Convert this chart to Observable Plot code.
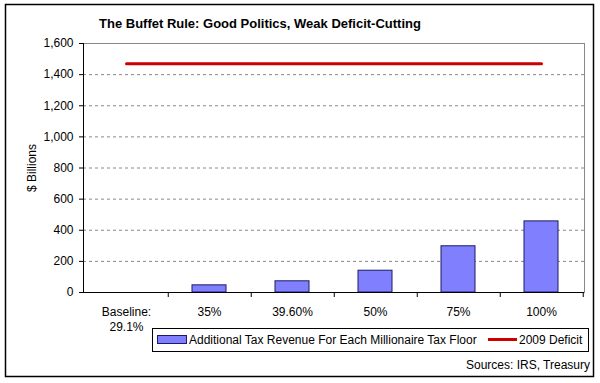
<!DOCTYPE html>
<html><head><meta charset="utf-8">
<script src="https://cdn.jsdelivr.net/npm/d3@7"></script>
<script src="https://cdn.jsdelivr.net/npm/@observablehq/plot@0.6"></script>
<style>
body{margin:0;background:#fff;}
#c{position:relative;width:600px;height:383px;}
svg{font-family:"Liberation Sans",Arial,sans-serif;}
</style></head><body><div id="c"></div>
<script>
const categories = ["Baseline:\n29.1%", "35%", "39.60%", "50%", "75%", "100%"];
const revenue = [0, 46, 72, 140, 297, 457];
const deficit2009 = [1470, 1470, 1470, 1470, 1470, 1470];
const yTicks = [0, 200, 400, 600, 800, 1000, 1200, 1400, 1600];
const gridTicks = [200, 400, 600, 800, 1000, 1200, 1400];
const titleText = "The Buffet Rule: Good Politics, Weak Deficit-Cutting";
const barLabel = "Additional Tax Revenue For Each Millionaire Tax Floor";
const lineLabel = "2009 Deficit";
const sourceText = "Sources: IRS, Treasury";

const rows = categories.map((c, i) => ({cat: c, rev: revenue[i], def: deficit2009[i]}));
const W = 600, H = 383, mL = 83, mR = 16, mT = 43, mB = 91;
const step = (W - mL - mR) / categories.length;

const chart = Plot.plot({
  width: W, height: H,
  marginLeft: mL, marginRight: mR, marginTop: mT, marginBottom: mB,
  style: {fontFamily: '"Liberation Sans", Arial, sans-serif', fontSize: "12px", color: "#000", background: "white"},
  x: {type: "band", domain: categories, paddingInner: 0.59, paddingOuter: 0.295, align: 0.5},
  y: {domain: [0, 1600]},
  marks: [
    Plot.ruleY(gridTicks, {stroke: "#888", strokeDasharray: "3,3", strokeWidth: 1, strokeOpacity: 1}),
    Plot.frame({anchor: "top", stroke: "#888", strokeOpacity: 1}),
    Plot.frame({anchor: "right", stroke: "#888", strokeOpacity: 1}),
    Plot.barY(rows.filter(d => d.rev > 0), {x: "cat", y: "rev", fill: "#8080ff", stroke: "#1a1a66", strokeWidth: 1}),
    Plot.lineY(rows, {x: "cat", y: "def", stroke: "#cc0000", strokeWidth: 3}),
    Plot.ruleY([0], {stroke: "#000"}),
    Plot.frame({anchor: "left", stroke: "#000", strokeOpacity: 1}),
    Plot.axisY({ticks: yTicks, tickFormat: d3.format(","), tickSize: 4, tickPadding: 6, label: "$ Billions", labelAnchor: "center", labelArrow: "none", labelOffset: 56, stroke: "#000", fill: "#000", fontSize: 12}),
    Plot.axisX({tickSize: 5, dx: step / 2, tickFormat: () => "", stroke: "#000", label: null}),
    Plot.axisX({tickSize: 0, tickPadding: 13, label: null, fill: "#000", fontSize: 12, lineHeight: 1.25})
  ]
});
document.getElementById("c").appendChild(chart);

const svg = d3.select(chart);
svg.append("rect").attr("x", 5.5).attr("y", 4.5).attr("width", 588).attr("height", 372)
  .attr("fill", "none").attr("stroke", "#000").attr("stroke-width", 1.5);
svg.append("text").attr("x", 260).attr("y", 28).attr("text-anchor", "middle")
  .attr("font-size", 13).attr("font-weight", "bold").attr("fill", "#000").text(titleText);
const lg = svg.append("g").attr("text-anchor", "start");
lg.append("rect").attr("x", 152.5).attr("y", 328.5).attr("width", 436).attr("height", 23)
  .attr("fill", "#fff").attr("stroke", "#000").attr("stroke-width", 1);
lg.append("rect").attr("x", 157.5).attr("y", 335.5).attr("width", 29).attr("height", 8)
  .attr("fill", "#8080ff").attr("stroke", "#1a1a66");
lg.append("text").attr("x", 189).attr("y", 344).attr("text-anchor", "start").attr("font-size", 12).attr("fill", "#000").text(barLabel);
lg.append("line").attr("x1", 488).attr("x2", 517).attr("y1", 339.5).attr("y2", 339.5)
  .attr("stroke", "#cc0000").attr("stroke-width", 3);
lg.append("text").attr("x", 519).attr("y", 344).attr("text-anchor", "start").attr("font-size", 12).attr("fill", "#000").text(lineLabel);
svg.append("text").attr("x", 590).attr("y", 369).attr("text-anchor", "end")
  .attr("font-size", 12).attr("fill", "#000").text(sourceText);
</script></body></html>
